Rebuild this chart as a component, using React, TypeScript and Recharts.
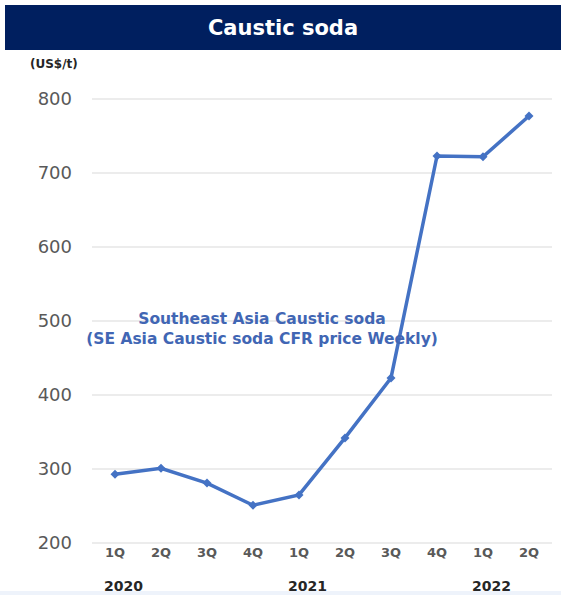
import React from 'react';
import { LineChart, Line, XAxis, YAxis, CartesianGrid } from 'recharts';

const quarters = ['1Q', '2Q', '3Q', '4Q', '1Q', '2Q', '3Q', '4Q', '1Q', '2Q'];
const years = ['2020', '', '', '', '2021', '', '', '', '2022', ''];
const prices = [293, 301, 281, 251, 265, 342, 423, 723, 722, 777];
const yTicks = [200, 300, 400, 500, 600, 700, 800];

const data = quarters.map((q, i) => ({ idx: i, quarter: q, year: years[i], price: prices[i] }));

const FONT = '"DejaVu Sans", Verdana, sans-serif';

function QuarterTick(props: any) {
	const { x, y, payload } = props;
	const year = years[payload.value];
	return (
		<g>
			<text x={x} y={y + 6} textAnchor="middle" fill="#595959" fontSize={13} fontWeight="bold" fontFamily={FONT}>
				{quarters[payload.value]}
			</text>
			{year ? (
				<text x={x - 11} y={y + 40} textAnchor="start" fill="#262626" fontSize={14} fontWeight="bold" fontFamily={FONT}>
					{year}
				</text>
			) : null}
		</g>
	);
}

function Diamond(props: any) {
	const { cx, cy } = props;
	if (cx == null || cy == null) return null;
	const s = 4.5;
	return <path d={`M${cx},${cy - s}L${cx + s},${cy}L${cx},${cy + s}L${cx - s},${cy}Z`} fill="#4472c4" />;
}

export default function App() {
	return (
		<div style={{ position: 'absolute', left: 0, top: 0, width: 561, height: 595, background: '#fff', fontFamily: FONT }}>
			<div
				style={{
					position: 'absolute',
					left: 5,
					top: 5,
					width: 556,
					height: 45,
					background: '#001f5f',
					color: '#fff',
					fontWeight: 'bold',
					fontSize: 21,
					display: 'flex',
					alignItems: 'center',
					justifyContent: 'center',
				}}
			>
				Caustic soda
			</div>
			<div style={{ position: 'absolute', left: 30, top: 57, fontSize: 12, fontWeight: 'bold', color: '#262626' }}>
				(US$/t)
			</div>
			<LineChart width={561} height={595} data={data} margin={{ top: 99, right: 9, left: 0, bottom: 22 }}>
				<CartesianGrid vertical={false} stroke="#d9d9d9" strokeWidth={1} />
				<XAxis
					dataKey="idx"
					type="category"
					axisLine={false}
					tickLine={false}
					height={30}
					interval={0}
					padding={{ left: 23, right: 23 }}
					tick={<QuarterTick />}
				/>
				<YAxis
					domain={[200, 800]}
					ticks={yTicks}
					axisLine={false}
					tickLine={false}
					tickSize={0}
					tickMargin={20}
					width={92}
					tick={{ fill: '#595959', fontSize: 18, fontFamily: FONT }}
				/>
				<Line
					type="linear"
					dataKey="price"
					stroke="#4472c4"
					strokeWidth={3.5}
					isAnimationActive={false}
					dot={<Diamond />}
					activeDot={false}
				/>
			</LineChart>
			<div
				style={{
					position: 'absolute',
					left: 42,
					top: 309,
					width: 440,
					textAlign: 'center',
					color: '#4166b4',
					fontWeight: 'bold',
					fontSize: 15.5,
					lineHeight: '20px',
				}}
			>
				Southeast Asia Caustic soda
				<br />
				(SE Asia Caustic soda CFR price Weekly)
			</div>
			<div style={{ position: 'absolute', left: 0, top: 591, width: 561, height: 4, background: '#eef3fb' }} />
		</div>
	);
}
